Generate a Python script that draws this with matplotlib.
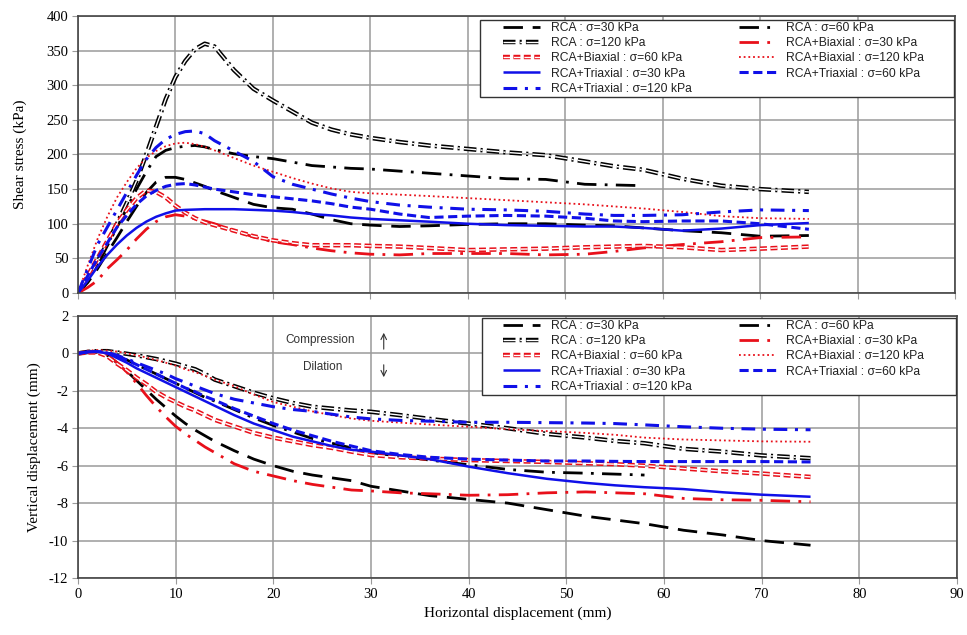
import numpy as np
import matplotlib
matplotlib.use("Agg")
import matplotlib.pyplot as plt
import matplotlib.patheffects as pe
from matplotlib.patches import Rectangle

plt.rcParams["axes.unicode_minus"] = False
nan = np.nan

# horizontal displacement (mm) where every curve is sampled
X_MM = [0, 1, 2, 3, 4, 5, 6, 7, 8, 9, 10, 11, 12, 13, 14, 16, 18, 20, 22, 24, 26,
        28, 30, 33, 36, 40, 44, 48, 52, 55, 58, 62, 66, 70, 75]

# shear stress (kPa)
TAU_RCA_30 = [0, 15, 35, 58, 80, 103, 125, 145, 160, 167, 167, 164, 159, 154, 148, 138, 128,
              123, 121, 114, 106, 100, 98, 96, 97, 99, 100, 100, 98, 97, 94, 90, 87, 82, 83]
TAU_RCA_60 = [0, 18, 40, 68, 95, 122, 150, 175, 197, 206, 210, 212, 213, 211, 207, 201, 197,
              194, 189, 184, 182, 180, 179, 176, 173, 169, 165, 164, 157, 156, 155, nan, nan, nan, nan]
TAU_RCA_120 = [0, 20, 45, 72, 100, 130, 162, 200, 240, 280, 312, 335, 352, 360, 356, 322, 295,
               278, 262, 246, 236, 229, 224, 218, 213, 208, 203, 199, 190, 183, 178, 165, 155, 150, 146]
TAU_BI_30 = [0, 8, 18, 35, 48, 62, 78, 92, 103, 110, 113, 111, 107, 104, 100, 90, 81,
             74, 70, 65, 61, 58, 56, 55, 57, 57, 57, 55, 56, 60, 65, 70, 74, 80, 81]
TAU_BI_60 = [0, 25, 50, 75, 100, 120, 137, 148, 146, 138, 126, 116, 108, 102, 98, 90, 82,
             76, 72, 69, 69, 69, 68, 67, 65, 62, 63, 64, 66, 67, 68, 66, 62, 64, 67]
TAU_BI_120 = [0, 40, 78, 110, 138, 160, 180, 195, 205, 212, 216, 217, 215, 211, 206, 195, 184,
              175, 166, 158, 151, 146, 144, 142, 140, 137, 134, 131, 128, 125, 122, 117, 111, 108, 107]
TAU_TRI_30 = [0, 18, 38, 55, 70, 83, 94, 103, 110, 115, 119, 120, 120.5, 121, 121, 121, 120,
              119, 117, 114, 112, 109, 107, 105, 103, 100, 98, 97, 96, 96, 94, 90, 93, 98, 101]
TAU_TRI_60 = [0, 25, 50, 72, 95, 112, 128, 140, 148, 154, 157, 158, 156, 153, 150, 146, 142,
              139, 136, 133, 129, 124, 121, 114, 109, 111, 112, 111, 108, 104, 103, 104, 104, 100, 92]
TAU_TRI_120 = [0, 35, 70, 95, 120, 145, 170, 193, 210, 222, 229, 233, 234, 230, 220, 205, 190,
               168, 157, 150, 143, 137, 132, 127, 124, 121, 120, 118, 114, 112, 112, 113, 117, 120, 119]

# vertical displacement (mm)
DY_RCA_30 = [0, 0.08, 0.08, -0.1, -0.5, -0.95, -1.45, -1.95, -2.45, -2.9, -3.35, -3.75, -4.1,
             -4.4, -4.7, -5.2, -5.65, -6.0, -6.3, -6.5, -6.65, -6.8, -7.1, -7.35, -7.6, -7.8,
             -8.0, -8.35, -8.7, -8.9, -9.1, -9.45, -9.7, -10.0, -10.25]
DY_RCA_60 = [0, 0.08, 0.1, 0.02, -0.15, -0.35, -0.6, -0.85, -1.1, -1.35, -1.6, -1.85, -2.1,
             -2.35, -2.55, -3.0, -3.45, -3.85, -4.2, -4.55, -4.8, -5.05, -5.3, -5.5, -5.7,
             -5.95, -6.2, -6.35, -6.4, -6.45, -6.5, nan, nan, nan, nan]
DY_RCA_120 = [0, 0.08, 0.12, 0.12, 0.05, -0.02, -0.1, -0.2, -0.3, -0.42, -0.55, -0.7, -0.85,
              -1.1, -1.4, -1.75, -2.1, -2.4, -2.65, -2.85, -2.95, -3.05, -3.12, -3.3, -3.5,
              -3.75, -4.0, -4.3, -4.5, -4.68, -4.8, -5.1, -5.25, -5.45, -5.6]
DY_BI_30 = [0, 0.05, 0.08, -0.05, -0.5, -1.0, -1.6, -2.25, -2.85, -3.4, -3.9, -4.3, -4.65,
            -5.0, -5.3, -5.9, -6.3, -6.55, -6.8, -7.0, -7.15, -7.3, -7.35, -7.45, -7.5,
            -7.58, -7.55, -7.45, -7.4, -7.45, -7.5, -7.75, -7.82, -7.85, -7.93]
DY_BI_60 = [0, 0.05, 0.05, -0.15, -0.55, -0.9, -1.3, -1.65, -2.05, -2.35, -2.6, -2.85, -3.05,
            -3.3, -3.55, -3.9, -4.25, -4.5, -4.7, -4.9, -5.05, -5.25, -5.43, -5.55, -5.62,
            -5.7, -5.75, -5.8, -5.87, -5.92, -6.0, -6.15, -6.3, -6.42, -6.6]
DY_BI_120 = [0, 0.15, 0.18, 0.15, 0.1, 0.0, -0.1, -0.22, -0.35, -0.5, -0.65, -0.85, -1.0,
             -1.2, -1.4, -1.75, -2.2, -2.6, -2.85, -3.1, -3.3, -3.48, -3.6, -3.7, -3.8,
             -3.92, -4.05, -4.15, -4.25, -4.35, -4.5, -4.6, -4.65, -4.7, -4.72]
DY_TRI_30 = [0, 0.08, 0.1, 0.0, -0.25, -0.5, -0.8, -1.05, -1.3, -1.55, -1.8, -2.05, -2.3,
             -2.55, -2.8, -3.3, -3.75, -4.1, -4.45, -4.7, -4.95, -5.15, -5.25, -5.45, -5.65,
             -6.05, -6.4, -6.7, -6.92, -7.05, -7.15, -7.25, -7.42, -7.55, -7.66]
DY_TRI_60 = [0, 0.08, 0.1, 0.02, -0.15, -0.35, -0.6, -0.85, -1.1, -1.35, -1.6, -1.85, -2.05,
             -2.3, -2.5, -2.95, -3.35, -3.75, -4.1, -4.4, -4.7, -4.95, -5.2, -5.4, -5.55,
             -5.65, -5.7, -5.75, -5.75, -5.77, -5.78, -5.78, -5.78, -5.78, -5.8]
DY_TRI_120 = [0, 0.08, 0.1, 0.05, -0.1, -0.3, -0.5, -0.7, -0.9, -1.1, -1.35, -1.55, -1.75,
              -1.95, -2.15, -2.45, -2.65, -2.85, -3.0, -3.1, -3.25, -3.4, -3.5, -3.58, -3.62,
              -3.68, -3.68, -3.7, -3.72, -3.75, -3.82, -3.92, -4.0, -4.05, -4.08]

LABELS = ["RCA : σ=30 kPa", "RCA : σ=60 kPa", "RCA : σ=120 kPa",
          "RCA+Biaxial : σ=30 kPa", "RCA+Biaxial : σ=60 kPa", "RCA+Biaxial : σ=120 kPa",
          "RCA+Triaxial : σ=30 kPa", "RCA+Triaxial : σ=60 kPa", "RCA+Triaxial : σ=120 kPa"]

RED = "#e8101a"
BLUE = "#1010e8"

# line style for each series, same order as LABELS
STYLES = [
    dict(color="black", lw=2.0, dashes=(7, 3.5)),
    dict(color="black", lw=2.0, dashes=(7, 3, 1, 3)),
    dict(color="white", lw=1.0, dashes=(9, 3, 1.5, 3), hollow="black"),
    dict(color=RED, lw=2.0, dashes=(7, 3, 1, 3)),
    dict(color="white", lw=1.0, dashes=(5, 2.5), hollow=RED),
    dict(color=RED, lw=1.3, dashes=(1, 1.6)),
    dict(color=BLUE, lw=1.8, dashes=None),
    dict(color=BLUE, lw=2.2, dashes=(3, 1.5)),
    dict(color=BLUE, lw=2.2, dashes=(4.5, 2.5, 1, 2.5)),
]

SERIF = "Liberation Serif"
SANS = "Liberation Sans"


def draw_series(ax, curves):
    handles = []
    for y, label, st in zip(curves, LABELS, STYLES):
        kw = dict(color=st["color"], lw=st["lw"], label=label, solid_capstyle="butt")
        line, = ax.plot(X_MM, y, **kw)
        if st["dashes"] is not None:
            line.set_dashes(st["dashes"])
        if "hollow" in st:
            # outlined line: thick coloured stroke with a white core
            line.set_path_effects([pe.Stroke(linewidth=3.2, foreground=st["hollow"]), pe.Normal()])
        handles.append(line)
    return handles


def style_axes(ax, ylim, yticks):
    ax.set_xlim(0, 90)
    ax.set_ylim(*ylim)
    ax.set_xticks(np.arange(0, 91, 10))
    ax.set_yticks(yticks)
    ax.grid(True, color="#9a9a9a", lw=1.1)
    ax.set_axisbelow(True)
    for sp in ax.spines.values():
        sp.set_color("#444444")
        sp.set_linewidth(1.2)
    ax.tick_params(direction="out", length=4, color="#9a9a9a", labelsize=10.5, pad=3)
    for lbl in ax.get_xticklabels() + ax.get_yticklabels():
        lbl.set_fontfamily(SERIF)


def add_legend(ax, handles, box, anchor):
    # frame drawn by hand so the padding can differ left/right and top/bottom
    x0, y0, x1, y1 = box
    ax.add_patch(Rectangle((x0, y0), x1 - x0, y1 - y0, transform=ax.transAxes,
                           facecolor="white", edgecolor="#333333", lw=1.0, zorder=4))
    order = [0, 2, 4, 6, 8, 1, 3, 5, 7]
    leg = ax.legend([handles[i] for i in order], [LABELS[i] for i in order],
                    ncol=2, loc="upper left", bbox_to_anchor=anchor, frameon=False,
                    borderpad=0, borderaxespad=0, handlelength=3.05, handletextpad=0.9,
                    columnspacing=3.9, labelspacing=0.27,
                    prop=dict(family=SANS, size=8.7))
    leg.set_zorder(5)
    for t in leg.get_texts():
        t.set_color("#222222")


fig = plt.figure(figsize=(9.67, 6.35), dpi=100)
ax1 = fig.add_axes([0.0807, 0.5386, 0.9069, 0.4362])
ax2 = fig.add_axes([0.0807, 0.0898, 0.9090, 0.4126])

# shear stress vs horizontal displacement
h1 = draw_series(ax1, [TAU_RCA_30, TAU_RCA_60, TAU_RCA_120, TAU_BI_30, TAU_BI_60,
                       TAU_BI_120, TAU_TRI_30, TAU_TRI_60, TAU_TRI_120])
style_axes(ax1, (0, 400), np.arange(0, 401, 50))
ax1.tick_params(axis="x", labelbottom=False)
ax1.set_ylabel("Shear stress (kPa)", fontfamily=SERIF, fontsize=11, labelpad=14)
add_legend(ax1, h1, (0.458, 0.708, 0.999, 0.986), (0.4846, 0.979))

# vertical vs horizontal displacement
h2 = draw_series(ax2, [DY_RCA_30, DY_RCA_60, DY_RCA_120, DY_BI_30, DY_BI_60,
                       DY_BI_120, DY_TRI_30, DY_TRI_60, DY_TRI_120])
style_axes(ax2, (-12, 2), np.arange(-12, 3, 2))
ax2.set_xlabel("Horizontal displacement (mm)", fontfamily=SERIF, fontsize=11, labelpad=4)
ax2.set_ylabel("Vertical displacement (mm)", fontfamily=SERIF, fontsize=11, labelpad=6)
add_legend(ax2, h2, (0.460, 0.698, 0.999, 0.992), (0.4835, 0.985))

ax2.text(24.8, 0.72, "Compression", ha="center", va="center", family=SANS, fontsize=8.5, color="#333333")
ax2.text(25.1, -0.73, "Dilation", ha="center", va="center", family=SANS, fontsize=8.5, color="#333333")
ax2.annotate("", xy=(31.3, 1.25), xytext=(31.3, 0.08),
             arrowprops=dict(arrowstyle="->", lw=0.8, color="#333333"))
ax2.annotate("", xy=(31.3, -1.42), xytext=(31.3, -0.46),
             arrowprops=dict(arrowstyle="->", lw=0.8, color="#333333"))

fig.savefig("out.png", dpi=100)
